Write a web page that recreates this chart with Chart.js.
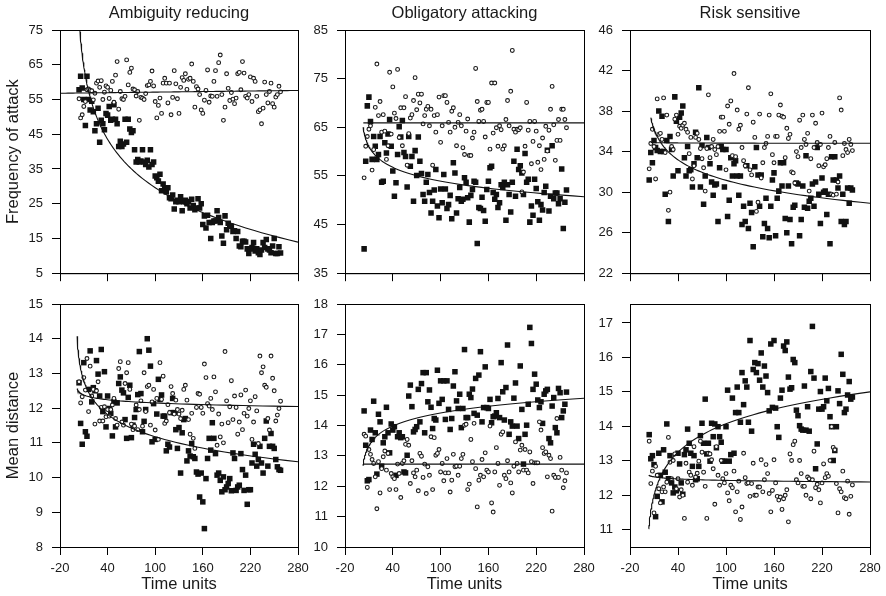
<!DOCTYPE html>
<html lang="en">
<head>
<meta charset="UTF-8">
<title>Attack frequency and mean distance over time</title>
<script src="https://cdn.jsdelivr.net/npm/chart.js"></script>
<style>
  body { margin: 0; background: #fff; }
  #wrap { position: relative; width: 886px; height: 596px; overflow: hidden; }
  #wrap canvas { position: absolute; }
</style>
</head>
<body>
<div id="wrap"></div>
<script>
  // sampling times shared by every series
  const timeUnits = [4,6,8,10,12,14,16,18,20,22,24,26,28,30,32,34,36,38,40,42,44,46,48,50,52,54,56,58,60,62,64,66,
    68,70,72,74,76,78,80,82,84,86,88,90,92,94,96,98,100,102,104,106,108,110,112,114,116,118,120,122,124,126,128,130,
    132,134,136,138,140,142,144,146,148,150,152,154,156,158,160,162,164,166,168,170,172,174,176,178,180,182,184,186,188,190,192,194,
    196,198,200,202,204,206,208,210,212,214,216,218,220,222,224,226,228,230,232,234,236,238,240,242,244,246,248,250,252,254,256,258];

  // frequency of attack - filled squares / open circles
  const ambigAttackSq = [57.8,61.7,58.3,55,47.5,61.7,55,52, 54.5,51.5,46,48,52.5,42.7,49,48,
    46.3,51,50.5,53,49,49.3,53.5,49.3, 48,41.5,43,41.5,42.2,49.3,42.7,49.3,
    46.5,45.5,46,40.5,37,37.7,37,37.3, 40.5,37,36.3,37.5,35.6,40.5,36.3,37,
    33,32.5,31.5,33.5,28.7,30.7,29.5,28.4, 29.6,26.7,26.4,27.5,23.5,25.6,26,25.6,
    27,23,25.6,26,25,25.6,23.8,26.3, 24.5,23.3,23.8,26.4,23.8,25,19,21.5,
    18,21.7,19.6,15,19.6,20,20,23, 21,19.6,15.7,13.6,21.5,17.5,19.4,18.5,
    18.5,17,17.2,15,17,12.8,12.6,14.2, 14.2,14,12,10.7,12,12.4,13.8,11.4,
    12,10.9,10.4,11.7,13.8,12.4,14.7,12, 11.7,10.9,12.8,15,10.7,10.7,12.6,10.8];
  const ambigAttackCi = [55.2,49.7,50.6,53,54.4,57.8,58,57.6, 57.5,54.9,56.8,59.7,60.3,58.5,60.4,55,57.1,58.9,
    58.5,55.3,57.6,60.2,54.2,62,65.9,52.2, 57.3,55.2,55,55.9,66.4,59.2,62.8,64,
    58,57.8,56,57.3,49,55.6,55.4,55,56.7,59, 59.2,60.2,63.2,58.9,54.4,49.7,53.3,55.4,
    51,59.7,61.1,59.7,54,59.7,50.6,55.6, 63.3,59.5,55.2,51,58.5,61.3,60.5,62.4,57.9,60.8,
    61.1,65.2,60.2,52.8,58.7,58,56.4,52, 51,54.8,57.6,63.5,54.2,56,55.9,60.2,
    63.3,55.9,65.6,67.8,56.4,49,52.8,62.4,58.2,54.7, 57,55.1,53.8,55.4,62.4,62.8,57.8,65.9,
    62.6,55.9,55.4,56.4,61.5,54.4,61.1,60.2, 55.9,51.5,52,48,52.5,60,56.4,54,
    57.3,59.7,53.8,52.8,55.7,56.4,58.8,57.2];
  const oblAttackSq = [40,58,69.4,71.2,66.2,58.4,63.1,61.1, 58.4,59.4,63.1,53.7,53.9,61.8,59.7,63.6,
    66.6,61.1,56,50.8,53.6,59.4,65.1,63, 66.4,59.8,59,52.7,63.1,57,59,49.8,60.2,55.1,
    63,58,55.5,51.2,49.8,53.7,55.3,51.6, 47.4,49.8,52.1,56.3,48.8,46.4,52.3,49.5,
    55.3,52.3,48.3,49.1,51,46.2,57.7,55.6, 47.4,50.3,52.6,49.8,50.2,54.6,53.7,50.5,
    45.5,51,52.2,53.9,53.7,41.1,48.5,48.3,50.6,47.9, 45.7,52.2,53.9,56.7,57,51.6,50.2,51.2,
    48.5,49.5,53.2,52.6,53.7,45.9,53.2,51.2, 47.6,53.7,58,50.8,60.5,56.3,57.1,55.6,
    51.2,59.6,53.7,54.3,45.5,48.8,46.9,54.3,52.4,49.7, 45.9,49.1,48,51.6,52.9,60.3,47.8,50.8,
    61.2,50.3,51.5,51.5,49.3,50.3,56.4,44.2, 49.6,52.1];
  const oblAttackCi = [54.6,61.1,63.1,64.6,65.3,56.2,60.4,69.1, 78,67.4,70.3,64,67.6,64.2,58.4,61.2,
    76.3,63.6,73.3,67.9,66.8,76.9,62.9,69, 61.2,69,71.3,57.2,63.7,66.9,67.6,70.5,
    75.2,68.6,71.8,70,71.8,65.7,67.4,68.7,69.3, 65.3,68.7,57.2,67.4,64,67.6,71.2,61.9,
    65.3,71.5,71.5,70.1,66,64,68.3,69, 65,61.2,66,67.6,65.3,60.8,59.4,64.2,
    66.7,59.2,59.2,62.8,64,77.1,70.3,66.2, 68.5,68.7,66.2,63,70.1,70.1,60.5,74.1,63.8,
    74.1,64.9,61.1,65.3,64.5,60.5,61.2,66.6, 70.5,65.3,72.4,80.8,64.6,64,64.6,64.5,
    64.9,51.7,55.8,61.1,70.1,64.4,66.2,57.5, 62.1,66.2,64.2,57.8,61.2,56.3,62.8,58.4,
    65.2,60.1,64.4,68.7,73.4,65.5,58.2,62.3, 66.6,62.3,68.7,68.7,66.6,64.9];
  const riskAttackSq = [31.2,33.9,32.9,35.1,34.4,34.1,38,34, 37.5,34,29.8,35.1,27.1,35.5,34.2,31.6,
    39.4,37,32.1,37.4,37.8,38.5,33.4,31.6, 34.5,32.1,32.2,30.5,32.8,35.9,33.4,40.3,
    30.5,34.6,28.8,31.6,35.4,34.4,32.8,31, 29.7,30.7,30.8,27.1,32.4,34.5,34.2,30.5,
    34.2,27.6,29.2,33.4,31.6,32.8,33.1,31.6, 29.7,31.6,26.8,28.6,27.1,32.6,26.4,28.9,
    28,24.6,32.5,34.4,31.7,28.6,31.7,25.6, 26.9,29.4,26.4,25.5,28.6,31.2,31.9,25.7,
    29.4,30.1,32.9,30.6,32.9,27.4,26,30.6, 27.3,24.9,28.5,28.7,30.9,30.8,25.7,27.3,
    30.6,28.5,33.6,28.4,29.1,29.4,30.8,28.6, 31,34.4,29.8,26.9,31.4,30,30.1,27.8,
    29.8,24.9,33.5,31.2,33.5,31.2,30.4,31.6, 27.1,29.8,26.8,27.1,30.4,28.9,30.4,30.2];
  const riskAttackCi = [32.3,34.8,36.2,34.5,31.3,39.2,35.7,35.8, 35.2,39.3,33.9,37.6,28.2,30,34.5,34.2,
    37.2,37.6,35.7,36.5,36.3,36.6,36.8,36.2,35.9, 33.8,35.4,31.3,32.6,35.4,35.8,35.2,34.3,
    33.3,32.4,30.1,34.3,39.6,33.4,34.5,35.2, 34.2,33.7,34.5,36,37.4,37.4,36,32.2,
    38.5,36.7,39,33.6,41.7,33.5,38.1,36.2, 36.6,34.4,33.1,32.6,37.7,40.3,32.2,31.7,36.9,
    35.4,28.1,29,37.7,31.4,32.9,34.4,34.8, 35.5,37.6,39.7,33.7,32.9,35.5,35.5,37.6,
    38.6,37.5,37.4,33.4,36.3,35.3,35.7,32, 31.9,30.9,34,33.5,37.1,34.4,37.6,35.2,
    34.7,35.8,30.1,33.3,37.6,34.4,36.8,34.9, 32.6,34.7,37.8,32.5,32.7,33.3,34.4,35.5,
    29.8,29.7,34.9,29.8,31,39.3,38.1,33.6, 34.8,34.2,33.9,35.2,34.7,34.1];

  // mean distance - filled squares / open circles
  const ambigDistSq = [12.73,11.56,10.96,13.31,11.32,11.19,12.54,13.65, 12.18,12.59,12.5,13.37,12.98,12.35,13.69,11.9,
    13.05,11.46,12.35,11.99,11.85,11.2,12.18,11.46, 12.15,12.71,12.9,12.52,12.44,11.67,11.13,12.31,
    12.66,11.15,11.51,11.73,11.96,12.39,13.63,12.42, 11.32,11.62,11.96,14,13.67,13.21,11.03,12.13,
    11.1,11.83,12.83,12.25,12.38,11.77,11.77,10.77, 10.96,10.88,11.87,12.28,11.87,11.38,10.84,11.44,
    10.13,11.29,11.67,11.7,10.48,10.77,10.62,10.98, 10.6,10.55,10.16,10.1,9.44,10.13,9.3,8.53,
    9.97,10.55,11.13,10.79,11.58,11.13,10.69,10.07, 10.13,9.92,9.59,10.02,9.65,9.73,
    9.83,9.97,9.62,10.71,10.55,9.63,9.73,9.78, 10.69,10.23,9.63,10.07,9.23,9.65,9.65,10.42,
    10.96,10.67,10.33,10.52,10.9,10.42,10.13,11.13, 11.63,10.33,10.9,11.27,10.9,10.84, 10.52,10.31,10.23,10.21];
  const ambigDistCi = [12.76,12.15,12.33,12.88,12.52,13.43,11.9,13.21, 12.35,12.54,11.54,12.5,12.76,11.63,12.02,11.63,
    12.04,11.75,11.96,11.77,11.96,12.09,12.28,11.7, 11.51,13.14,13.34,11.6,11.51,12.71,13.02,13.31,
    12.54,11.54,11.38,11.48,12.09,11.38,11.96,12.21, 11.48,13.02,11.9,12.62,12.66,11.51,12.18,12.54,
    11.37,12.28,11.1,13.31,12.25,12.92,11.56,11.63,12.1, 11.87,12.62,12.42,11.83,12.23,11.96,11.83,11.7,
    11.94,12.54,12.66,12.23,11.67,11.25,11.85,11.13, 10.84,12.02,12.42,12.4,12.02,11.85,13.27,12.88,
    12.13,12.06,12.28,11.96,12.9,12.47,10.93,11.83, 11.17,11.54,11,13.63,12.21,11.58,12.04,12.79,
    11.67,12.35,12.02,11.25,11.6,12.38,11.38,11.85, 12.52,11.77,11.99,12.21,11.1,11.6,12.33,11.92,
    10.98,13.5,13.02,13.19,12.66,12.6,11.7,11.37, 13.5,12.86,12.5,11.63,11.8,11.99,12.2];
  const oblDistSq = [14.48,13.35,12.18,12.22,13.85,13.54,14.8,13.76, 12.4,14.37,14.12,12.66,13.43,13.63,14.6,13.76,13.1,14.05,
    13.85,13.96,12.36,13.63,13.76,13.6,13.63,12.47, 12.44,13.02,14.97,15.33,14.62,13.79,13.87,13.96,
    15.19,14.12,15.38,15.74,13.76,15.74,14.78,15.17,14.6,13.9, 14.23,14.18,15.82,14.73,15.47,14.86,15.47,14.2,
    15.47,14.53,13.87,14.23,15.3,15.77,14.81,14.56, 15.03,13.93,14.56,16.5,14.26,14.26,15.03,14.92,15.2,14.4,
    15.55,14.34,15.66,16.43,14.12,14.59,15.93,14.59, 14.56,14.86,14.09,14.29,14.31,14.42,14.89,14.26,
    16.07,15.11,14.18,15.25,16.65,13.71,14.12,13.98,14.9,15.4, 13.98,13.57,15.96,14.53,12.73,13.71,14.01,14.7,
    17.23,16.7,15.19,15.69,15.36,14.84,14.59,14.78, 14.07,15.03,15.14,15.19,13.57,13.43,14.64,14.92,
    13.93,13.76,15.22,15.08,14.26,14.48,14.7,15.1];
  const oblDistCi = [13.71,13.65,11.96,13.21,13.05,12.88,12.75,12.31, 11.26,12.81,11.78,12.58,12.97,13.16,12.53,13.08,
    11.89,12.42,12.31,12.25,11.89,12.73,12.42,11.63, 12.75,12.84,13.38,13.54,13.35,12.09,12.84,12.44,
    12.31,12.53,11.85,13.08,12.99,12.29,12.73,11.76, 12.64,12.36,13.63,11.89,13.6,13.02,13.08,13.21,
    12.47,12.75,12.18,12.44,12.91,12.44,11.81,12.2, 13.05,12.64,12.66,12.36,12.66,12.91,13.05,14.01,
    14.04,11.89,12.07,13.54,12.81,14.07,12.58,11.32, 12.2,12.36,12.88,12.31,13.1,12.53,12.47,13.98,
    11.45,11.15,12.47,13.27,12.75,12.03,13.71,13.79, 12.36,12.25,12.84,12.47,12.11,11.78,12.66,13.46,
    12.75,12.47,13.19,13.35,12.53,13.21,12.53,12.44, 13.13,12.81,12.09,12.77,12.77,12.77,14.12,13.85,
    13.27,13.08,13.13,12.31,13.02,12.91,11.18,12.36, 12.29,14.23,12.29,12.95,12.53,11.95,12.18,12.44];
  const riskDistSq = [13.76,13.06,13.15,12.89,11.38,11.97,13.22,12.58, 11.81,13.32,12.67,14.07,12.48,13.15,12.36,12.07,
    12.24,12.13,13.22,12.91,12.36,12.03,13.18,13.32, 13.92,13.51,13.22,12.84,13.15,12.45,12.48,12.84,
    13.73,14.09,13.51,14.79,13.2,13.51,12.99,14.09, 13.7,14.07,13.38,13.99,13.7,13.54,12.99,12.99,
    13.99,15.05,12.99,13.18,14.82,13.22,14.4,15.14, 14.4,14.12,15.56,14.63,15.32,15.14,14.12,16.49,
    13.86,15.65,15.85,15.56,15.82,15.34,16.13,15.14, 15.75,15.46,14.98,14.45,16.39,14.55,16.49,14.53,
    13.99,13.68,14.82,15.05,16.33,16.2,16.45,15.43, 15.08,15.12,15.94,15.85,14.47,14.31,14.02,13.92,
    13.89,15.17,13.89,14.57,13.86,15.59,16.9,15.4, 12.77,13.49,14.5,15.01,14.5,14.57,15.4,14.74,
    15.1,14.28,13.99,13.01,13.3,13.99,15.03,14.66, 16.09,15.51,14.4,14.5,14.91,15.3,14.79,14.85];
  const riskDistCi = [13.57,12.34,12.7,11.49,12.84,12.58,12.19,11.78, 12.1,12.24,12.1,12.38,13.68,12.96,12.48,13.01,
    13.2,12.19,12.48,11.95,12.16,12,11.33,12.93, 12.38,12.67,12.58,12.29,13.41,12.53,12.64,12.99,
    13.57,13.25,12.67,12.26,11.33,13.22,13.2,13.03, 12.77,11.74,13.41,12.58,12.29,13.01,12.48,12.36,
    12.63,12.07,11.84,12.29,12.22,12.7,11.52,12.1, 12.41,11.3,11.66,13.22,12.51,12.34,12.36,11.97,
    12.34,12.93,12,12,12.24,12.24,13.03,12.1,12.45, 12.89,12.63,12.05,11.52,12.14,13.03,12.36,11.97,
    11.86,11.95,11.59,11.9,12,12.16,11.23,13.2, 13.01,13.47,13.57,12.45,12.36,13.01,12.63,12.26,
    12.26,12,12.53,12.48,11.9,12.45,13.28,12.22, 12.32,12.16,11.78,12.36,12.91,12.51,12.63,12.55,
    13.01,13.99,13.39,13.32,12.34,11.49,12.19,12.1, 12.7,11.93,11.9,12.41,11.45,11.97,12.3];

  // log-time fits, y = a + b*ln(t) (+ c*t), drawn from tFrom to the end of the axis
  const trendFrom = [5, 2.8, 6, 1.6, 2.5, 3.4];
  const trendA = [99.6, 68.2, 41.3, 14.4, 12.25, 9.93];
  const trendB = [-15.2, -3.1, -2.2, -0.7, 0.47, 0.9];
  const levelFrom = [-20, 3, 6, 1.6, 3, 3.4];
  const levelA = [56.85, 65.9, 34.93, 12.61, 12.73, 12.64];
  const levelB = [0, 0, -0.02, -0.1, 0, -0.045];
  const levelC = [0.00267, 0, 0, 0, 0, 0];

  const panelTitles = ['Ambiguity reducing', 'Obligatory attacking', 'Risk sensitive'];
  const rowTitles = ['Frequency of attack', 'Mean distance'];
  const xTicks = [-20, 40, 100, 160, 220, 280];
  const yMin = [5, 35, 22, 8, 10, 10.5];
  const yMax = [75, 85, 46, 15, 18, 17.55];
  const yTicks = [
    [5, 15, 25, 35, 45, 55, 65, 75],
    [35, 45, 55, 65, 75, 85],
    [22, 26, 30, 34, 38, 42, 46],
    [8, 9, 10, 11, 12, 13, 14, 15],
    [10, 11, 12, 13, 14, 15, 16, 17, 18],
    [11, 12, 13, 14, 15, 16, 17]
  ];

  const squareSeries = [ambigAttackSq, oblAttackSq, riskAttackSq, ambigDistSq, oblDistSq, riskDistSq];
  const circleSeries = [ambigAttackCi, oblAttackCi, riskAttackCi, ambigDistCi, oblDistCi, riskDistCi];

  const FONT = '"Liberation Sans", Arial, Helvetica, sans-serif';
  const INK = '#1a1a1a';
  Chart.defaults.font.family = FONT;
  Chart.defaults.color = INK;

  function points(values) {
    return values.map((v, i) => ({ x: timeUnits[i], y: v }));
  }

  function fitLine(from, a, b, c) {
    const pts = [];
    for (let k = 0; k <= 90; k++) {
      const t = from > 0 ? from * Math.pow(280 / from, k / 90) : from + (280 - from) * k / 90;
      pts.push({ x: t, y: a + (b ? b * Math.log(t) : 0) + c * t });
    }
    return pts;
  }

  // closes the box on top and right
  const frame = {
    id: 'frame',
    afterDraw(chart) {
      const a = chart.chartArea, ctx = chart.ctx;
      ctx.save();
      ctx.strokeStyle = '#000';
      ctx.lineWidth = 1;
      ctx.strokeRect(a.left + 0.5, a.top + 0.5, a.right - a.left, a.bottom - a.top);
      ctx.restore();
    }
  };

  const plotLeft = [60, 345, 630], plotRight = [298, 584, 870];
  const plotTop = [30, 304], plotBottom = [274, 547];
  const wrap = document.getElementById('wrap');

  for (let i = 0; i < 6; i++) {
    const row = Math.floor(i / 3), col = i % 3;
    const left = plotLeft[col] - 60, top = plotTop[row] - 30;
    const w = plotRight[col] - plotLeft[col] + 85;
    const h = row === 0 ? plotBottom[0] - top + 16 : 596 - top;
    const xAxisH = h - 30 - (plotBottom[row] - plotTop[row]);

    const canvas = document.createElement('canvas');
    canvas.width = w;
    canvas.height = h;
    canvas.style.left = left + 'px';
    canvas.style.top = top + 'px';
    canvas.style.width = w + 'px';
    canvas.style.height = h + 'px';
    wrap.appendChild(canvas);

    const tickGrid = { display: true, drawOnChartArea: false, drawTicks: true, tickLength: 8, color: '#000', tickColor: '#000', lineWidth: 1 };

    new Chart(canvas, {
      type: 'scatter',
      data: {
        datasets: [
          { type: 'line', data: fitLine(trendFrom[i], trendA[i], trendB[i], 0), borderColor: '#111', borderWidth: 1.1, pointRadius: 0, fill: false, tension: 0 },
          { type: 'line', data: fitLine(levelFrom[i], levelA[i], levelB[i], levelC[i]), borderColor: '#111', borderWidth: 1.1, pointRadius: 0, fill: false, tension: 0 },
          { data: points(circleSeries[i]), pointStyle: 'circle', pointRadius: 1.9, backgroundColor: '#fff', borderColor: '#1a1a1a', borderWidth: 1.1 },
          { data: points(squareSeries[i]), pointStyle: 'rect', pointRadius: 3.9, backgroundColor: '#111', borderColor: '#111', borderWidth: 0 }
        ]
      },
      options: {
        responsive: false,
        animation: false,
        events: [],
        layout: { padding: { left: 0, right: 25, top: row === 0 ? 0 : 30, bottom: 0 } },
        plugins: {
          legend: { display: false },
          tooltip: { enabled: false },
          title: {
            display: row === 0,
            text: panelTitles[col],
            fullSize: false,
            color: INK,
            font: { size: 16.5, weight: 'normal' },
            padding: { top: 4, bottom: 6.2 }
          }
        },
        scales: {
          x: {
            type: 'linear',
            min: -20,
            max: 280,
            afterBuildTicks: s => { s.ticks = xTicks.map(v => ({ value: v })); },
            afterFit: s => { s.height = xAxisH; },
            grid: tickGrid,
            border: { display: true, color: '#000', width: 1 },
            ticks: { display: row === 1, color: INK, font: { size: 13 }, padding: 6, maxRotation: 0, minRotation: 0, autoSkip: false },
            title: { display: row === 1, text: 'Time units', color: INK, font: { size: 16.5 }, padding: { top: 0, bottom: 2 } }
          },
          y: {
            type: 'linear',
            min: yMin[i],
            max: yMax[i],
            afterBuildTicks: s => { s.ticks = yTicks[i].map(v => ({ value: v })); },
            afterFit: s => { s.width = 60; },
            grid: tickGrid,
            border: { display: true, color: '#000', width: 1 },
            ticks: { color: INK, font: { size: 13 }, padding: 9, autoSkip: false },
            title: { display: col === 0, text: rowTitles[row], color: INK, font: { size: 16.5 }, padding: { top: 4, bottom: 0 } }
          }
        }
      },
      plugins: [frame]
    });
  }
</script>
</body>
</html>
